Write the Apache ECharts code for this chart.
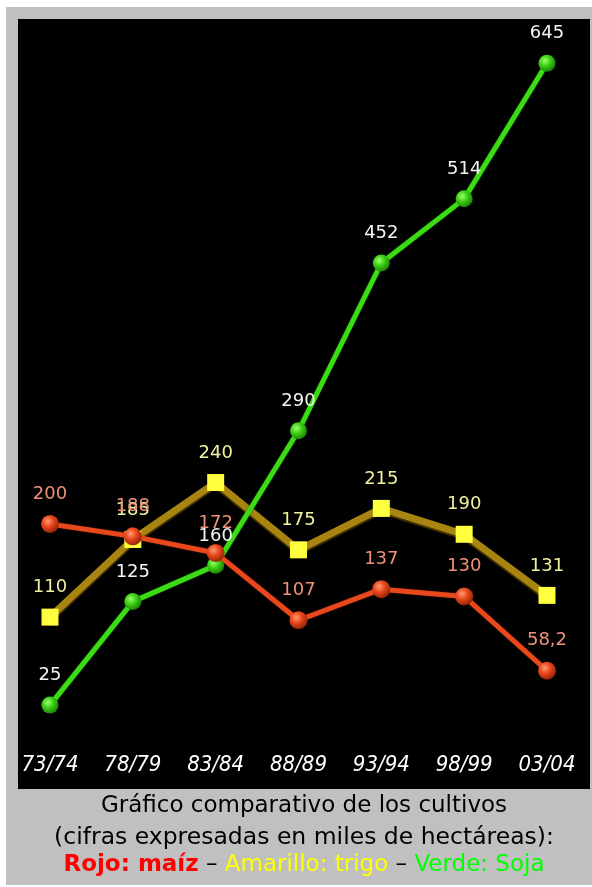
<!DOCTYPE html>
<html>
<head>
<meta charset="utf-8">
<script src="https://cdn.jsdelivr.net/npm/echarts@6/dist/echarts.min.js"></script>
<style>
html,body{margin:0;padding:0;background:#fff;}
#chart{width:592px;height:887px;}
</style>
</head>
<body>
<div id="chart"></div>
<script>
// Data
const categories = ['73/74', '78/79', '83/84', '88/89', '93/94', '98/99', '03/04'];
const maiz  = [200, 188, 172, 107, 137, 130, 58.2];   // Rojo
const trigo = [110, 185, 240, 175, 215, 190, 131];    // Amarillo
const soja  = [25, 125, 160, 290, 452, 514, 645];     // Verde
const captionLine1 = 'Gráfico comparativo de los cultivos';
const captionLine2 = '(cifras expresadas en miles de hectáreas):';

const chart = echarts.init(document.getElementById('chart'), null, {renderer: 'canvas'});

function ball(light, mid, dark) {
  return {type: 'radial', x: 0.38, y: 0.35, r: 0.7,
    colorStops: [{offset: 0, color: light}, {offset: 0.45, color: mid}, {offset: 1, color: dark}]};
}

const labelFont = 'DejaVu Sans';

const option = {
  backgroundColor: '#ffffff',
  animation: false,
  grid: {left: 50, right: 45, top: 27, bottom: 156, containLabel: false},
  xAxis: {
    type: 'category',
    data: categories,
    boundaryGap: false,
    axisLine: {show: false},
    axisTick: {show: false},
    splitLine: {show: false},
    axisLabel: {
      color: '#ffffff',
      fontFamily: '"DejaVu Sans Condensed", sans-serif',
      fontStyle: 'italic',
      fontWeight: 'normal',
      fontSize: 22,
      margin: 23,
      interval: 0
    }
  },
  yAxis: {
    type: 'value', min: 0, max: 680, show: false,
    splitLine: {show: false}
  },
  graphic: [
    {type: 'rect', z: -100, silent: true, shape: {x: 6, y: 7, width: 590, height: 878}, style: {fill: '#c0c0c0'}},
    {type: 'rect', z: -99, silent: true, shape: {x: 18, y: 19, width: 572, height: 770}, style: {fill: '#000000'}},
    {type: 'text', z: 10, silent: true,
      x: 304, y: 806,
      style: {text: captionLine1, align: 'center', verticalAlign: 'middle',
        font: '23px "DejaVu Sans"', fill: '#000000'}},
    {type: 'text', z: 10, silent: true,
      x: 304, y: 838,
      style: {text: captionLine2, align: 'center', verticalAlign: 'middle',
        font: '23.5px "DejaVu Sans"', fill: '#000000'}},
    {type: 'text', z: 10, silent: true,
      x: 304, y: 865,
      style: {
        text: '{r|Rojo: maíz}{k| – }{y|Amarillo: trigo}{k| – }{g|Verde: Soja}',
        align: 'center', verticalAlign: 'middle',
        rich: {
          r: {fontFamily: 'DejaVu Sans', fontWeight: 'bold', fontSize: 23, fill: '#ff0000'},
          k: {fontFamily: 'DejaVu Sans', fontSize: 23, fill: '#000000'},
          y: {fontFamily: 'DejaVu Sans', fontSize: 23, fill: '#ffff00'},
          g: {fontFamily: 'DejaVu Sans', fontSize: 23, fill: '#00ff00'}
        }
      }}
  ],
  series: [
    {
      name: 'Amarillo: trigo',
      type: 'line',
      data: trigo,
      z: 2,
      symbol: 'rect',
      symbolSize: 17,
      lineStyle: {color: '#a88410', width: 7, shadowColor: 'rgba(80,60,0,0.9)', shadowOffsetY: 2, shadowBlur: 1},
      itemStyle: {color: '#ffff40'},
      label: {show: true, position: 'top', distance: 12, color: '#f0f0a0',
        fontFamily: labelFont, fontSize: 18}
    },
    {
      name: 'Verde: Soja',
      type: 'line',
      data: soja,
      z: 3,
      symbol: 'circle',
      symbolSize: 17,
      lineStyle: {color: '#3cdc14', width: 5, shadowColor: 'rgba(20,100,0,0.8)', shadowBlur: 2},
      itemStyle: {color: ball('#9cff70', '#3cd014', '#1a7a08')},
      label: {show: true, position: 'top', distance: 12, color: '#f4f4f4',
        fontFamily: labelFont, fontSize: 18}
    },
    {
      name: 'Rojo: maíz',
      type: 'line',
      data: maiz,
      z: 4,
      symbol: 'circle',
      symbolSize: 18,
      lineStyle: {color: '#e8481c', width: 5, shadowColor: 'rgba(120,30,0,0.8)', shadowBlur: 2},
      itemStyle: {color: ball('#ff9a70', '#e8481c', '#8a2004')},
      label: {show: true, position: 'top', distance: 12, color: '#f09078',
        fontFamily: labelFont, fontSize: 18,
        formatter: function (p) { return String(p.value).replace('.', ','); }}
    }
  ]
};
chart.setOption(option);
</script>
</body>
</html>
